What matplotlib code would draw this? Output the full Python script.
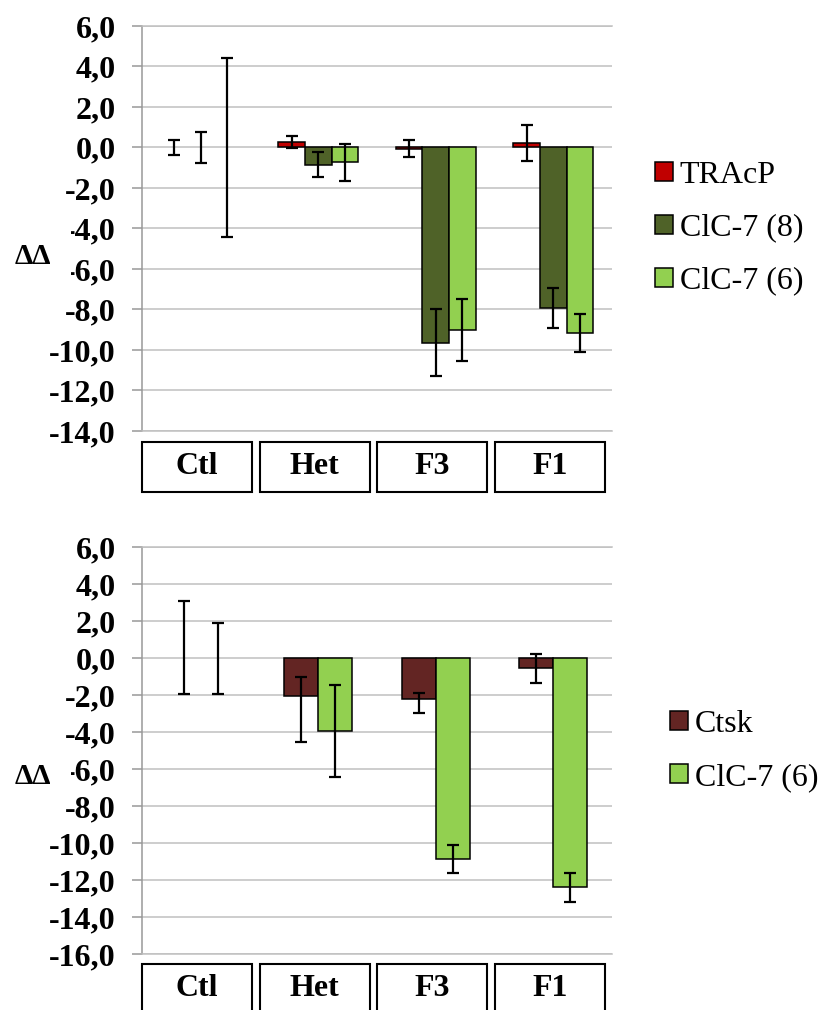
import matplotlib
matplotlib.use("Agg")
import matplotlib.pyplot as plt
import matplotlib.transforms as mtransforms
from matplotlib.patches import Rectangle
from matplotlib.ticker import FuncFormatter
import numpy as np

plt.rcParams['font.family'] = ['Liberation Serif', 'DejaVu Serif']
plt.rcParams['axes.unicode_minus'] = False

groups = ['Ctl', 'Het', 'F3', 'F1']

# top panel
top_names = ['TRAcP', 'ClC-7 (8)', 'ClC-7 (6)']
top_colors = ['#C00000', '#4F6228', '#92D050']
tracp = [0.0, 0.27, -0.05, 0.24]
tracp_err = [0.37, 0.30, 0.41, 0.89]
clc8 = [0.0, -0.84, -9.65, -7.92]
clc8_err = [0.78, 0.60, 1.65, 0.98]
clc6_a = [0.0, -0.74, -9.00, -9.16]
clc6_a_err = [4.44, 0.90, 1.53, 0.96]

# bottom panel (asymmetric errors: lower, upper)
bot_names = ['Ctsk', 'ClC-7 (6)']
bot_colors = ['#632523', '#92D050']
ctsk = [0.0, -2.02, -2.22, -0.52]
ctsk_lo = [1.91, 2.48, 0.75, 0.80]
ctsk_hi = [3.11, 0.99, 0.33, 0.74]
clc6_b = [0.0, -3.93, -10.83, -12.38]
clc6_b_lo = [1.91, 2.50, 0.75, 0.78]
clc6_b_hi = [1.91, 2.50, 0.75, 0.78]

W, H = 818, 1010
fig = plt.figure(figsize=(W / 100, H / 100), dpi=100)

FS = 23
grid_c = '#c0c0c0'
axis_c = '#989898'


def fmt(v, pos):
    return ('%.1f' % v).replace('.', ',')


def setup(ax, ymin):
    ax.set_xlim(-0.5, 3.5)
    ax.set_ylim(ymin, 6)
    ax.set_yticks(np.arange(ymin, 6.1, 2))
    ax.yaxis.set_major_formatter(FuncFormatter(fmt))
    ax.set_xticks([])
    ax.grid(axis='y', color=grid_c, lw=1.1)
    ax.set_axisbelow(True)
    ax.spines['right'].set_visible(False)
    for s in ['top', 'bottom']:
        ax.spines[s].set_color(grid_c)
        ax.spines[s].set_linewidth(1.1)
    ax.spines['left'].set_color(axis_c)
    ax.spines['left'].set_linewidth(1.1)
    ax.tick_params(axis='y', direction='out', length=7, width=1.1,
                   color=axis_c, labelsize=FS, pad=12)
    for t in ax.get_yticklabels():
        t.set_fontweight('bold')


def bars(ax, xs, vals, lo, hi, color, w):
    ec = ['black' if v != 0 else 'none' for v in vals]
    ax.bar(xs, vals, width=w, color=color, edgecolor=ec, linewidth=1.1)
    ax.errorbar(xs, vals, yerr=[lo, hi], fmt='none', ecolor='black',
                elinewidth=1.6, capsize=4.3, capthick=1.6, zorder=4)


def boxes(ax, y0, h):
    tr = mtransforms.blended_transform_factory(ax.transData, fig.transFigure)
    for i, g in enumerate(groups):
        r = Rectangle((i - 0.5, y0), 0.94, h, transform=tr, fill=False,
                      edgecolor='black', lw=1.5, clip_on=False)
        ax.add_patch(r)
        ax.text(i - 0.5 + 0.47, y0 + h / 2, g, transform=tr, ha='center',
                va='center', fontsize=FS, fontweight='bold', clip_on=False)


x = np.arange(len(groups))

# ---- top
ax1 = fig.add_axes([142 / W, 1 - 431 / H, 470 / W, 405 / H])
setup(ax1, -14)
w1 = 0.226
top_vals = [tracp, clc8, clc6_a]
top_errs = [tracp_err, clc8_err, clc6_a_err]
for k in range(3):
    bars(ax1, x + (k - 1) * w1, top_vals[k], top_errs[k], top_errs[k],
         top_colors[k], w1)
boxes(ax1, 1 - 491.7 / H, 50 / H)
h1 = [Rectangle((0, 0), 1, 1, facecolor=c, edgecolor='black', lw=1.1)
      for c in top_colors]
fig.legend(h1, top_names, loc='center left',
           bbox_to_anchor=(655 / W, 1 - 228 / H), frameon=False,
           fontsize=FS, handlelength=0.55, handleheight=0.55,
           handletextpad=0.22, labelspacing=0.75, borderpad=0,
           borderaxespad=0)

# ---- bottom
ax2 = fig.add_axes([142 / W, 1 - 954.3 / H, 470 / W, 407 / H])
setup(ax2, -16)
w2 = 0.29
bars(ax2, x - w2 / 2, ctsk, ctsk_lo, ctsk_hi, bot_colors[0], w2)
bars(ax2, x + w2 / 2, clc6_b, clc6_b_lo, clc6_b_hi, bot_colors[1], w2)
boxes(ax2, 1 - 1014 / H, 50 / H)
h2 = [Rectangle((0, 0), 1, 1, facecolor=c, edgecolor='black', lw=1.1)
      for c in bot_colors]
fig.legend(h2, bot_names, loc='center left',
           bbox_to_anchor=(670 / W, 1 - 751 / H), frameon=False,
           fontsize=FS, handlelength=0.55, handleheight=0.55,
           handletextpad=0.22, labelspacing=0.75, borderpad=0,
           borderaxespad=0)

# y labels with their white label boxes
for yc, ytop, ybot in [(257, 210, 285), (777, 750, 795)]:
    fig.add_artist(Rectangle((0, 1 - ybot / H), 71 / W, (ybot - ytop) / H,
                             transform=fig.transFigure, facecolor='white',
                             edgecolor='none', zorder=5))
    fig.text(15 / W, 1 - yc / H, 'ΔΔ', ha='left', va='center', fontsize=21,
             fontweight='bold', zorder=6)

fig.savefig('out.png', dpi=100)
